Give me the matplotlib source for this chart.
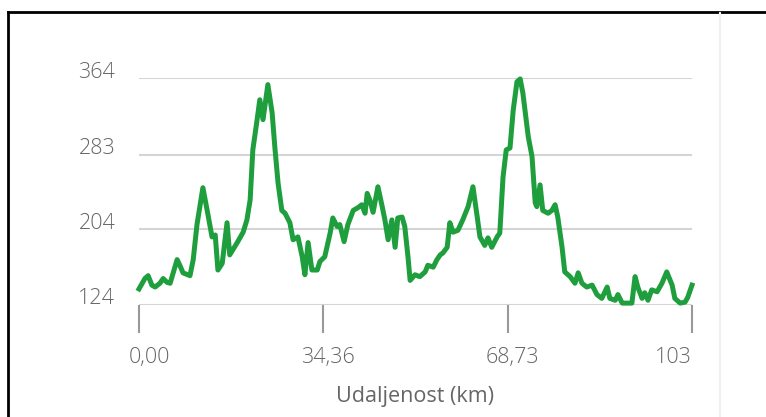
import matplotlib
matplotlib.use("Agg")
import matplotlib.pyplot as plt
from matplotlib.lines import Line2D
from matplotlib.transforms import ScaledTranslation

# elevation profile: distance (km) and elevation (m)
distance_km = [
    0.0, 1.1, 1.7, 2.4, 3.0, 3.9, 4.5, 5.2, 5.8, 7.1, 7.6, 8.2, 9.5, 10.1,
    10.8, 11.9, 12.7, 13.6, 14.2, 14.7, 15.5, 16.4, 16.9, 18.3, 19.4, 20.1,
    20.7, 21.2, 22.0, 22.5, 23.1, 24.0, 24.8, 25.3, 25.9, 26.6, 27.2, 28.1,
    28.7, 29.6, 30.4, 30.9, 31.5, 32.2, 33.2, 33.7, 34.6, 35.6, 36.1, 36.9,
    37.4, 38.2, 38.9, 39.9, 40.8, 41.5, 42.1, 42.5, 43.0, 43.6, 44.5, 45.3,
    45.8, 46.4, 47.1, 47.7, 48.2, 49.0, 49.5, 50.1, 50.5, 51.4, 52.3, 53.3,
    53.8, 54.8, 55.5, 56.1, 56.6, 57.4, 57.9, 58.5, 59.4, 60.3, 61.3, 62.2,
    63.0, 63.5, 64.4, 65.0, 65.7, 66.7, 67.2, 67.8, 68.4, 69.1, 69.7, 70.4,
    71.0, 71.5, 72.5, 73.2, 73.8, 74.1, 74.7, 75.2, 76.2, 76.9, 77.5, 78.0,
    78.8, 79.3, 80.3, 81.2, 81.8, 82.5, 83.4, 84.4, 85.3, 86.2, 87.2, 87.7,
    88.7, 89.2, 90.0, 90.9, 91.8, 92.4, 92.9, 93.7, 94.2, 94.8, 95.5, 96.5,
    97.4, 98.3, 99.3, 99.8, 100.8, 101.7, 102.2, 103.0,
]
elevation_m = [
    141, 152, 155, 145, 143, 147, 152, 148, 147, 172, 166, 158, 155, 172,
    209, 248, 224, 196, 198, 161, 168, 211, 177, 190, 201, 214,
    235, 288, 320, 341, 320, 357, 327, 291, 253, 224, 221, 211,
    193, 196, 175, 156, 190, 161, 161, 170, 175, 200, 216, 207,
    209, 191, 209, 224, 227, 230, 221, 242, 235, 222, 249, 228,
    214, 193, 214, 185, 216, 217, 207, 175, 150, 156, 154, 159,
    166, 164, 172, 177, 179, 185, 211, 201, 203, 214, 228, 249,
    217, 196, 187, 195, 185, 196, 200, 259, 288, 290, 330, 360,
    363, 348, 302, 281, 232, 228, 251, 224, 221, 224, 230, 217,
    185, 159, 154, 147, 158, 147, 143, 145, 135, 131, 143, 131,
    129, 135, 126, 126, 126, 154, 143, 131, 137, 129, 140, 138,
    147, 159, 145, 131, 126, 127, 132, 145,
]

x_ticks = [0, 34.36, 68.73, 103]
x_tick_labels = ["0,00", "34,36", "68,73", "103"]
y_ticks = [124, 204, 283, 364]
y_tick_labels = ["124", "204", "283", "364"]

plt.rcParams["font.family"] = ["Open Sans", "DejaVu Sans"]
plt.rcParams["font.weight"] = "light"

fig = plt.figure(figsize=(7.66, 4.17), dpi=100)
ax = fig.add_axes([139 / 766, 1 - 305 / 417, 553 / 766, 227 / 417])

ax.plot(distance_km, elevation_m, color="#1f9e3d", lw=3.6,
        solid_joinstyle="round", clip_on=False, zorder=3)

ax.set_xlim(0, 103)
ax.set_ylim(124, 364)

ax.set_yticks(y_ticks)
ax.set_yticklabels(y_tick_labels)
ax.set_xticks(x_ticks)
ax.set_xticklabels(x_tick_labels)

for s in ax.spines.values():
    s.set_visible(False)

ax.grid(axis="y", color="#d4d4d4", lw=1.5)
ax.set_axisbelow(True)

ax.tick_params(axis="y", length=0, pad=17, labelsize=15.5, labelcolor="#666666")
ax.tick_params(axis="x", direction="out", length=20, width=1.5, color="#999999",
               pad=10, labelsize=15.5, labelcolor="#666666")

# nudge tick labels like the original
for lab in ax.get_yticklabels():
    lab.set_transform(lab.get_transform() + ScaledTranslation(0, 0.085, fig.dpi_scale_trans))
xl = ax.get_xticklabels()
for lab in xl[1:-1]:
    lab.set_transform(lab.get_transform() + ScaledTranslation(0.04, 0, fig.dpi_scale_trans))
xl[0].set_transform(xl[0].get_transform() + ScaledTranslation(0.10, 0, fig.dpi_scale_trans))
xl[-1].set_ha("right")

ax.set_xlabel("Udaljenost (km)", fontsize=15.5, color="#666666")
ax.xaxis.set_label_coords(0.5, -0.405)
ax.xaxis.label.set_va("center")

# frame of the panel
fig.add_artist(Line2D([8 / 766, 8 / 766], [0, 1 - 12 / 417], color="black", lw=2))
fig.add_artist(Line2D([8 / 766, 1], [1 - 12 / 417, 1 - 12 / 417], color="black", lw=2))
fig.add_artist(Line2D([720 / 766, 720 / 766], [0, 1 - 13 / 417], color="#f0f0f0", lw=1.5))

fig.savefig("out.png", dpi=100)
